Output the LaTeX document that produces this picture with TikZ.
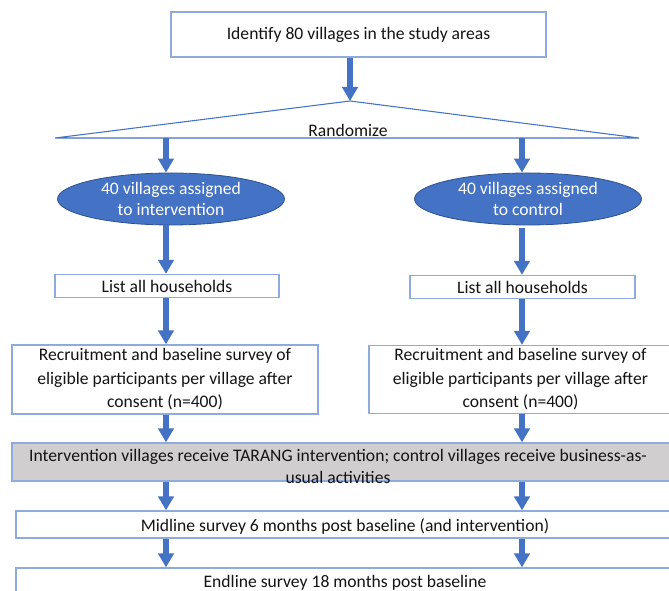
\documentclass[tikz,border=0pt]{standalone}
\usepackage{fontspec}
\setmainfont{Carlito}
\usepackage{xcolor}
\usepackage{tikz}
\usetikzlibrary{shapes.geometric, arrows.meta, positioning, calc}
\definecolor{myblue}{RGB}{68,114,196}
\definecolor{myframe}{RGB}{143,170,220}
\definecolor{mydarkblue}{RGB}{47,82,143}
\definecolor{mygrey}{RGB}{208,206,206}
\definecolor{mytext}{RGB}{20,20,20}
\tikzset{
  box/.style={rectangle,draw=myframe,fill=white,line width=1pt,inner sep=0pt,align=center,
    font=\fontsize{13.2}{17.6}\selectfont,text=mytext},
  greybox/.style={box,fill=mygrey},
  oval/.style={ellipse,draw=mydarkblue,fill=myblue,line width=0.6pt,inner sep=0pt,align=center,
    font=\fontsize{13.2}{15.8}\selectfont,text=white},
  txt/.style={inner sep=0pt,align=center,font=\fontsize{13.2}{16.5}\selectfont,text=mytext},
  arrow/.style={-{Triangle[length=10.5pt,width=11.5pt]},line width=4.5pt,color=myblue},
  tri/.style={draw=myblue,line width=0.8pt,line join=miter}
}

\begin{document}
\begin{tikzpicture}[x=0.75pt,y=-0.75pt]
  \useasboundingbox (0,0) rectangle (669,591);
  \clip (0,0) rectangle (669,591);

  % the two arms
  \coordinate (laneL) at (166,0);
  \coordinate (laneR) at (522,0);

  % top box
  \node[box, minimum width=281.25pt, minimum height=33.75pt] (ident) at (358.5,34.5)
    {Identify 80 villages in the study areas};

  % randomize triangle
  \coordinate (apex) at (350,101);
  \coordinate (baseL) at (55,138);
  \coordinate (baseR) at (639,138);
  \draw[tri] (apex) -- (baseL) -- (baseR) -- cycle;
  \node[txt] (rand) at (348,130) {Randomize};

  % arms
  \node[oval, minimum width=170.25pt, minimum height=39pt] (ellL) at (171,199)
    {40 villages assigned\\to intervention};
  \node[oval, minimum width=170.25pt, minimum height=39pt] (ellR) at (528,199)
    {40 villages assigned\\to control};

  \node[box, minimum width=168pt, minimum height=17.25pt] (listL) at (167,286) {List all households};
  \node[box, minimum width=168.75pt, minimum height=17.25pt] (listR) at (522.5,287) {List all households};

  \node[box, minimum width=229.5pt, minimum height=51.75pt] (recL) at (165,379.5)
    {Recruitment and baseline survey of\\eligible participants per village after\\consent (n=400)};
  \node[box, minimum width=227.25pt, minimum height=51pt] (recR) at (520.5,379.5)
    {Recruitment and baseline survey of\\eligible participants per village after\\consent (n=400)};

  % common rows
  \node[greybox, minimum width=495pt, minimum height=28.5pt] (treat) at (342,462) {};
  \node[txt] (treattxt) at (338,466)
    {Intervention villages receive TARANG intervention; control villages receive business-as-\\usual activities};

  \node[box, minimum width=492pt, minimum height=20.25pt] (mid) at (344,524.5) {};
  \node[txt] (midtxt) at (345,526) {Midline survey 6 months post baseline (and intervention)};

  \node[box, minimum width=492pt, minimum height=39pt] (endl) at (344,594) {};
  \node[txt] (endtxt) at (345,583) {Endline survey 18 months post baseline};

  % arrows
  \draw[arrow] (ident.south -| apex) -- (apex);
  \draw[arrow] (laneL |- baseL) -- (laneL |- ellL.north);
  \draw[arrow] (laneR |- baseR) -- (laneR |- ellR.north);
  \draw[arrow] (laneL |- ellL.south) -- (laneL |- listL.north);
  \draw[arrow] ([yshift=-2pt]laneR |- ellR.south) -- (laneR |- listR.north);
  \draw[arrow] (laneL |- listL.south) -- (laneL |- recL.north);
  \draw[arrow] (laneR |- listR.south) -- (laneR |- recR.north);
  \draw[arrow] (laneL |- recL.south) -- (laneL |- treat.north);
  \draw[arrow] (laneR |- recR.south) -- (laneR |- treat.north);
  \draw[arrow] (laneL |- treat.south) -- (laneL |- mid.north);
  \draw[arrow] (laneR |- treat.south) -- (laneR |- mid.north);
  \draw[arrow] (laneL |- mid.south) -- (laneL |- endl.north);
  \draw[arrow] (laneR |- mid.south) -- (laneR |- endl.north);
\end{tikzpicture}
\end{document}
